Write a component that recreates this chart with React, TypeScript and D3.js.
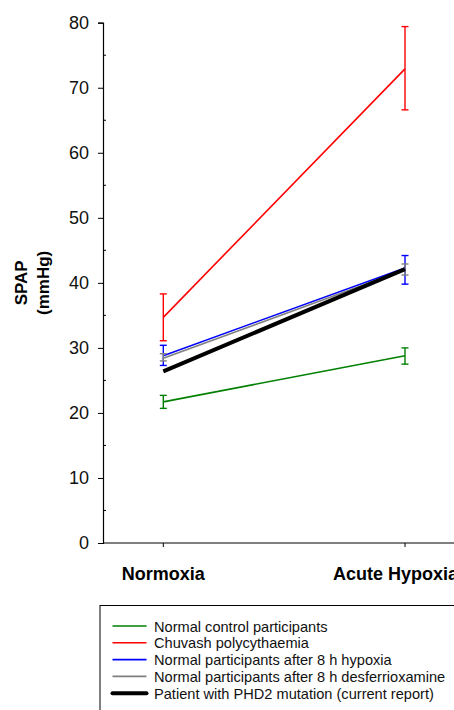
import React, { useEffect, useRef } from 'react';
import * as d3 from 'd3';

const categories = ['Normoxia', 'Acute Hypoxia'];
const yTicks = [0, 10, 20, 30, 40, 50, 60, 70, 80];

const seriesNames = [
  'Normal control participants',
  'Chuvash polycythaemia',
  'Normal participants after 8 h hypoxia',
  'Normal participants after 8 h desferrioxamine',
  'Patient with PHD2 mutation (current report)',
];
const seriesColors = ['#008000', '#ff0000', '#0000ff', '#808080', '#000000'];
const seriesWidths = [1.6, 1.6, 1.6, 1.6, 4];

// mean values at [Normoxia, Acute Hypoxia]
const controlMean = [21.7, 28.8];
const chuvashMean = [34.7, 72.9];
const hypoxiaMean = [28.8, 42.3];
const desferMean = [28.4, 42.0];
const patientMean = [26.4, 42.1];

// error bars [low, high] at each category
const controlErr = [[20.7, 22.7], [27.5, 30.0]];
const chuvashErr = [[31.1, 38.3], [66.6, 79.4]];
const hypoxiaErr = [[27.3, 30.4], [39.8, 44.2]];
const desferErr = [[28.0, 29.1], [41.2, 42.9]];
const patientErr: number[][] | null = null;

const means = [controlMean, chuvashMean, hypoxiaMean, desferMean, patientMean];
const errs = [controlErr, chuvashErr, hypoxiaErr, desferErr, patientErr];

const W = 454;
const H = 710;

export default function App() {
  const svgRef = useRef<SVGSVGElement | null>(null);

  useEffect(() => {
    if (!svgRef.current) return;
    const svg = d3.select(svgRef.current);
    svg.selectAll('*').remove();

    const left = 103;
    const top = 22.7;
    const bottom = 543;
    const font = 'Arial, "Liberation Sans", sans-serif';

    const y = d3.scaleLinear().domain([0, 80]).range([bottom, top]);
    const x = d3.scalePoint<string>().domain(categories).range([163.3, 405]);

    // y axis
    const yAxis = svg.append('g').attr('transform', `translate(${left},0)`);
    yAxis.call(d3.axisLeft(y).tickValues(yTicks).tickSize(5).tickPadding(9).tickFormat(d3.format('d')));
    yAxis.select('.domain').attr('stroke', '#000').attr('stroke-width', 1.2);
    yAxis.selectAll('.tick line').attr('stroke', '#000');
    yAxis.selectAll('.tick text').attr('font-size', 18).attr('font-family', font).attr('fill', '#111');
    // minor ticks
    const minor = d3.range(5, 80, 10);
    svg
      .append('g')
      .selectAll('line')
      .data(minor)
      .enter()
      .append('line')
      .attr('x1', left)
      .attr('x2', left + 3)
      .attr('y1', (d) => y(d))
      .attr('y2', (d) => y(d))
      .attr('stroke', '#000');

    // x axis
    svg
      .append('line')
      .attr('x1', left)
      .attr('x2', W)
      .attr('y1', bottom)
      .attr('y2', bottom)
      .attr('stroke', '#000')
      .attr('stroke-width', 1.2);
    svg
      .append('g')
      .selectAll('line')
      .data(categories)
      .enter()
      .append('line')
      .attr('x1', (d) => x(d)!)
      .attr('x2', (d) => x(d)!)
      .attr('y1', bottom)
      .attr('y2', bottom + 4)
      .attr('stroke', '#000');
    // label shifts: the right label sits a little left of its tick in the original
    const labelShift = [0, -9.5];
    svg
      .append('g')
      .selectAll('text')
      .data(categories)
      .enter()
      .append('text')
      .attr('x', (d, i) => x(d)! + labelShift[i])
      .attr('y', 580)
      .attr('text-anchor', 'middle')
      .attr('font-size', 18)
      .attr('font-weight', 'bold')
      .attr('font-family', font)
      .text((d) => d);

    // y label
    const yl = svg
      .append('text')
      .attr('transform', `translate(0,${(top + bottom) / 2}) rotate(-90)`)
      .attr('text-anchor', 'middle')
      .attr('font-size', 17)
      .attr('font-weight', 'bold')
      .attr('font-family', font);
    yl.append('tspan').attr('x', 0).attr('y', 27).text('SPAP');
    yl.append('tspan').attr('x', 0).attr('y', 48.5).text('(mmHg)');

    const line = d3
      .line<number>()
      .x((_, i) => x(categories[i])!)
      .y((d) => y(d));

    means.forEach((m, si) => {
      const g = svg.append('g');
      g.append('path')
        .attr('d', line(m)!)
        .attr('fill', 'none')
        .attr('stroke', seriesColors[si])
        .attr('stroke-width', seriesWidths[si]);
      const e = errs[si];
      if (!e) return;
      e.forEach((r, ci) => {
        const cx = x(categories[ci])!;
        g.append('line')
          .attr('x1', cx)
          .attr('x2', cx)
          .attr('y1', y(r[0]))
          .attr('y2', y(r[1]))
          .attr('stroke', seriesColors[si])
          .attr('stroke-width', 1.4);
        r.forEach((v) => {
          g.append('line')
            .attr('x1', cx - 3.5)
            .attr('x2', cx + 3.5)
            .attr('y1', y(v))
            .attr('y2', y(v))
            .attr('stroke', seriesColors[si])
            .attr('stroke-width', 1.4);
        });
      });
    });

    // legend
    svg
      .append('rect')
      .attr('x', 100)
      .attr('y', 605.5)
      .attr('width', 400)
      .attr('height', 140)
      .attr('fill', 'none')
      .attr('stroke', '#000')
      .attr('stroke-width', 1);
    const lg = svg.append('g');
    seriesNames.forEach((name, i) => {
      const ly = 626 + i * 16.8;
      lg.append('line')
        .attr('x1', 112.5)
        .attr('x2', 146.5)
        .attr('y1', ly)
        .attr('y2', ly)
        .attr('stroke', seriesColors[i])
        .attr('stroke-width', seriesWidths[i] === 4 ? 4 : 1.6)
        .attr('stroke-linecap', seriesWidths[i] === 4 ? 'round' : 'butt');
      lg.append('text')
        .attr('x', 154)
        .attr('y', ly + 5.5)
        .attr('font-size', 14.6)
        .attr('font-family', font)
        .attr('fill', '#111')
        .text(name);
    });
  }, []);

  return (
    <div style={{ position: 'fixed', left: 0, top: 0, width: W, height: H, background: '#fff' }}>
      <svg ref={svgRef} width={W} height={H} />
    </div>
  );
}
